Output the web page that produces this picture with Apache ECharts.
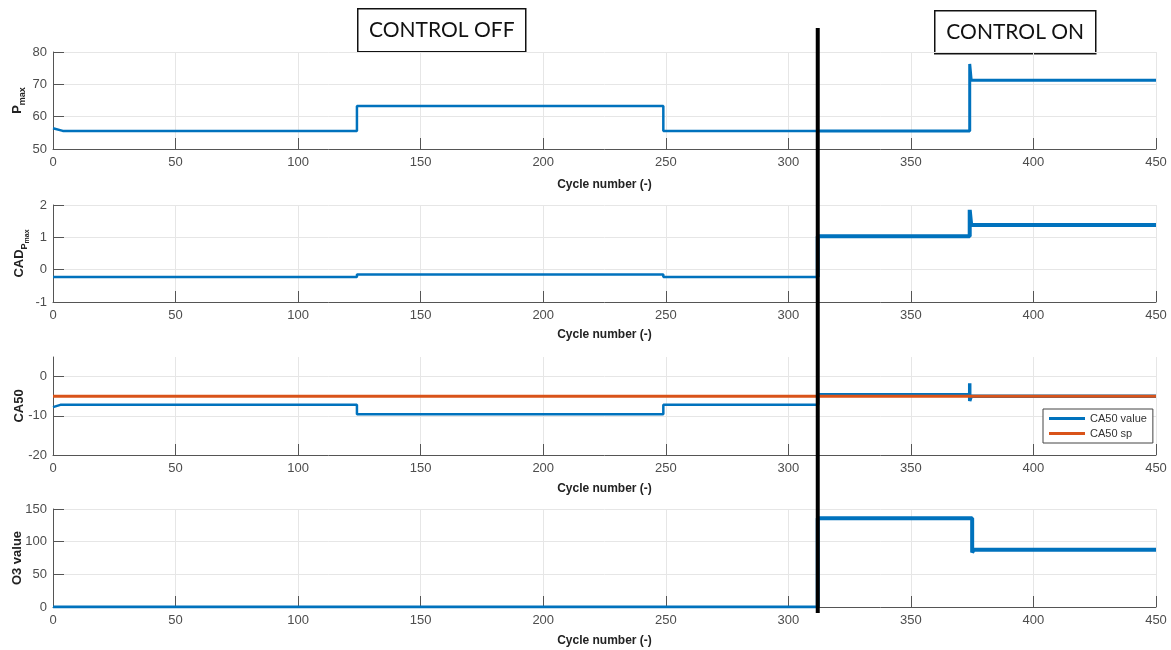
<!DOCTYPE html>
<html><head><meta charset="utf-8">
<script src="https://cdn.jsdelivr.net/npm/echarts@6/dist/echarts.min.js"></script>
<style>html,body{margin:0;padding:0;background:#fff}#c{width:1171px;height:650px}</style>
</head><body><div id="c"></div>
<script>
// ---- data ----
const pmaxOffX = [0, 4, 124, 124, 249, 249, 312];
const pmaxOffY = [56.4, 55.6, 55.6, 63.3, 63.3, 55.6, 55.6];
const pmaxOnX  = [312, 374, 374, 374.6, 450];
const pmaxOnY  = [55.6, 55.6, 76.3, 71.3, 71.3];

const cadOffX = [0, 124, 124, 249, 249, 312];
const cadOffY = [-0.23, -0.23, -0.15, -0.15, -0.23, -0.23];
const cadOnX  = [312, 312, 374, 374, 374.6, 450];
const cadOnY  = [-0.23, 1.03, 1.03, 1.85, 1.38, 1.38];

const ca50OffX = [0, 3, 124, 124, 249, 249, 312];
const ca50OffY = [-7.8, -7.2, -7.2, -9.6, -9.6, -7.2, -7.2];
const ca50OnX  = [312, 312, 374, 374, 374, 374.6, 450];
const ca50OnY  = [-7.2, -4.6, -4.6, -1.7, -6.2, -5, -5];
const ca50SpX  = [0, 450];
const ca50SpY  = [-5, -5];

const o3OffX = [0, 312];
const o3OffY = [0, 0];
const o3OnX  = [312, 312, 375, 375, 375.6, 450];
const o3OnY  = [0, 136, 136, 83.5, 87.5, 87.5];

const switchCycle = 312;
const xRange = [0, 450, 50];
const yRanges = [[50, 80, 10], [-1, 2, 1], [-20, 5, 10], [0, 150, 50]];
const yTickValues = [[50, 60, 70, 80], [-1, 0, 1, 2], [-20, -10, 0], [0, 50, 100, 150]];
const yNames = ['{b|P}{s|max}', '{b|CAD}{s|P}{ss|max}', '{b|CA50}', '{b|O3 value}'];
const xName = 'Cycle number (-)';
const legendNames = ['CA50 value', 'CA50 sp'];
const boxTexts = ['CONTROL OFF', 'CONTROL ON'];

// ---- chart ----
const BLUE = '#0072BD', ORANGE = '#D95319';
const zip = (xs, ys) => xs.map((x, i) => [x, ys[i]]);
const gridTops = [52, 205, 357, 509];
const gridHeights = [97, 97, 98, 98];
const nameGaps = [28, 26, 26, 28];
const xNameGaps = [30, 27, 28, 28];

const grids = gridTops.map((t, i) => ({left: 53, right: 15, top: t, height: gridHeights[i],
  containLabel: false, outerBoundsMode: 'none'}));
const axisCol = '#4d4d4d';
const xAxes = grids.map((g, i) => ({
  type: 'value', gridIndex: i, min: xRange[0], max: xRange[1], interval: xRange[2],
  name: xName, nameLocation: 'middle', nameGap: xNameGaps[i], nameMoveOverlap: false,
  nameTextStyle: {fontFamily: 'Liberation Sans', fontWeight: 'bold', fontSize: 12, color: '#222'},
  axisLine: {onZero: false, lineStyle: {color: '#555', width: 1}},
  axisTick: {inside: true, length: 11, lineStyle: {color: '#555'}},
  axisLabel: {fontFamily: 'Liberation Sans', fontSize: 13, color: axisCol, margin: 7},
  splitLine: {show: true, lineStyle: {color: '#e6e6e6', width: 1}}
}));
const richName = {
  b: {fontFamily: 'Liberation Sans', fontWeight: 'bold', fontSize: 13, color: '#222', lineHeight: 14, verticalAlign: 'top'},
  s: {fontFamily: 'Liberation Sans', fontWeight: 'bold', fontSize: 9, color: '#222', lineHeight: 9, padding: [7, 0, 0, 0], verticalAlign: 'top'},
  ss: {fontFamily: 'Liberation Sans', fontWeight: 'bold', fontSize: 7, color: '#222', lineHeight: 7, padding: [11, 0, 0, 0], verticalAlign: 'top'}
};
const yAxes = yRanges.map((r, i) => ({
  type: 'value', gridIndex: i, min: r[0], max: r[1], interval: r[2],
  name: yNames[i], nameLocation: 'middle', nameGap: nameGaps[i], nameMoveOverlap: false,
  nameTextStyle: {rich: richName},
  axisLine: {show: true, onZero: false, lineStyle: {color: '#555', width: 1}},
  axisTick: {show: true, inside: true, length: 11, lineStyle: {color: '#555'}, customValues: yTickValues[i]},
  axisLabel: {fontFamily: 'Liberation Sans', fontSize: 13, color: axisCol, margin: 6, customValues: yTickValues[i]},
  splitLine: {show: true, lineStyle: {color: '#e6e6e6', width: 1}}
}));

function line(name, idx, data, color, width, z) {
  return {type: 'line', name, xAxisIndex: idx, yAxisIndex: idx, data,
    symbol: 'none', showSymbol: false, animation: false, z: z || 2,
    lineStyle: {color, width}, itemStyle: {color}};
}
const series = [
  line('pOff', 0, zip(pmaxOffX, pmaxOffY), BLUE, 2.5),
  line('pOn', 0, zip(pmaxOnX, pmaxOnY), BLUE, 3),
  line('cOff', 1, zip(cadOffX, cadOffY), BLUE, 2.5),
  line('cOn', 1, zip(cadOnX, cadOnY), BLUE, 4),
  line(legendNames[0], 2, zip(ca50OffX, ca50OffY), BLUE, 2.5),
  line(legendNames[0], 2, zip(ca50OnX, ca50OnY), BLUE, 3.5),
  line(legendNames[1], 2, zip(ca50SpX, ca50SpY), ORANGE, 3, 3),
  line('oOff', 3, zip(o3OffX, o3OffY), BLUE, 3),
  line('oOn', 3, zip(o3OnX, o3OnY), BLUE, 4)
];

function box(text, x, y, w, h) {
  return {type: 'group', left: x, top: y, z: 100, children: [
    {type: 'rect', shape: {x: 0, y: 0, width: w, height: h}, style: {fill: '#fff', stroke: '#111', lineWidth: 1.5}},
    {type: 'text', x: w / 2, y: h / 2, style: {text, fill: '#111', font: '21px Lato', textAlign: 'center', textVerticalAlign: 'middle'}}
  ]};
}

const chart = echarts.init(document.getElementById('c'), null, {renderer: 'canvas'});
chart.setOption({
  animation: false,
  backgroundColor: '#fff',
  grid: grids, xAxis: xAxes, yAxis: yAxes, series,
  legend: {
    data: legendNames, orient: 'vertical', left: 1043, top: 409,
    icon: 'rect', itemWidth: 36, itemHeight: 3, itemGap: 4,
    padding: [4, 6, 4, 6], borderColor: '#444', borderWidth: 1, backgroundColor: '#fff',
    textStyle: {fontFamily: 'Liberation Sans', fontSize: 11, color: '#333'}
  },
  graphic: [box(boxTexts[0], 357, 8, 168, 43), box(boxTexts[1], 934, 10, 161, 43)]
});
const px = chart.convertToPixel({xAxisIndex: 0}, switchCycle);
chart.setOption({graphic: [
  box(boxTexts[0], 357, 8, 168, 43), box(boxTexts[1], 934, 10, 161, 43),
  {type: 'line', z: 50, shape: {x1: px, y1: 28, x2: px, y2: 613}, style: {stroke: '#000', lineWidth: 4}}
]});
</script></body></html>
